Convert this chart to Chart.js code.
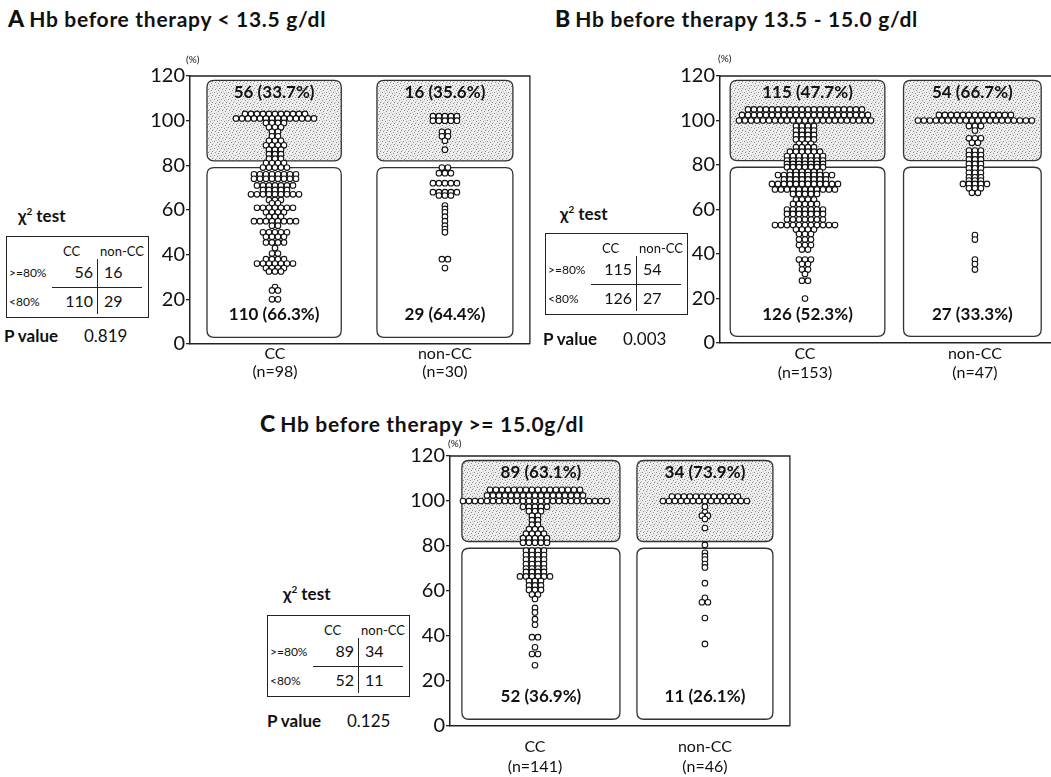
<!DOCTYPE html>
<html>
<head>
<meta charset="utf-8">
<script src="https://cdn.jsdelivr.net/npm/chart.js@4.4.1/dist/chart.umd.min.js"></script>
<style>
  body { margin:0; width:1051px; height:777px; overflow:hidden; background:#fff; position:relative;
         font-family: Lato, "Open Sans", sans-serif; color:#111; }
  .abs { position:absolute; white-space:nowrap; }
  .title { font-size:21px; font-weight:700; line-height:26px; letter-spacing:0.7px; }
  .title b { font-size:23px; font-weight:900; margin-right:5px; letter-spacing:0; }
  .chi { font-size:17px; font-weight:700; }
  .chi sup { font-size:10px; }
  .pct { font-size:10px; }
  .tbl { position:absolute; width:143px; height:82px; border:1.5px solid #222; box-sizing:border-box; }
  .tbl div { position:absolute; white-space:nowrap; transform:translateY(-50%); }
  .hdr { font-size:13px; }
  .rl { font-size:12px; }
  .num { font-size:16px; }
  .pv { font-size:17px; }
  canvas { position:absolute; }
</style>
</head>
<body>
<canvas id="chartA" width="385" height="330" style="left:150px;top:63px"></canvas>
<canvas id="chartB" width="385" height="330" style="left:680px;top:63px"></canvas>
<canvas id="chartC" width="385" height="340" style="left:410px;top:443px"></canvas>
<script>
// categories and group sizes
const categories = ['CC', 'non-CC'];
const nA = [98, 30];
const nB = [153, 47];
const nC = [141, 46];

// counts above / below 80 % and their shares
const highA = [56, 16],  lowA = [110, 29];
const highPctA = ['33.7%', '35.6%'], lowPctA = ['66.3%', '64.4%'];
const highB = [115, 54], lowB = [126, 27];
const highPctB = ['47.7%', '66.7%'], lowPctB = ['52.3%', '33.3%'];
const highC = [89, 34],  lowC = [52, 11];
const highPctC = ['63.1%', '73.9%'], lowPctC = ['36.9%', '26.1%'];
const pValues = ['0.819', '0.003', '0.125'];

// dot plot values (%) and how many dots sit on each value
const aCCValues  = [103, 101, 99, 97, 95, 93, 91, 89, 87, 85, 83, 81, 79, 76, 74, 71, 69, 67, 64.5, 63, 61, 59, 57, 55, 53, 50, 48, 45.5, 43, 40.5, 38, 36, 34, 32.5, 25.5, 24, 20];
const aCCCounts  = [11, 14, 4, 3, 2, 2, 3, 4, 3, 3, 3, 4, 5, 8, 8, 7, 5, 9, 3, 2, 7, 4, 3, 8, 2, 5, 4, 4, 1, 2, 4, 7, 4, 3, 1, 2, 2];
const aNonValues = [102, 100, 95, 93, 91, 87, 79, 76.5, 72, 68, 66.5, 62, 60.5, 59, 57, 55, 53, 51.5, 50, 38, 34];
const aNonCounts = [5, 5, 2, 2, 1, 1, 2, 3, 5, 5, 3, 1, 1, 1, 1, 1, 1, 1, 1, 2, 1];

const bCCValues  = [105, 102.5, 100, 97.5, 95.5, 93.5, 91.5, 89.5, 88, 86, 84, 82, 80.5, 79, 77, 75.5, 73.5, 71.5, 69, 67, 64.5, 62.5, 60, 58, 55.5, 53, 51, 49, 46.5, 44, 42, 37.5, 35.5, 33, 31, 28, 20];
const bCCCounts  = [20, 22, 23, 4, 4, 4, 4, 3, 4, 6, 7, 7, 7, 7, 6, 10, 8, 12, 11, 5, 4, 5, 7, 7, 7, 11, 4, 3, 3, 3, 2, 3, 2, 2, 1, 2, 1];
const bNonValues = [102.5, 100, 97.5, 95.5, 92, 90, 86.5, 84.5, 82.5, 80.5, 78.5, 76.5, 74.5, 73, 71.5, 69.5, 67.5, 48.5, 46.5, 37.5, 35.5, 33];
const bNonCounts = [13, 20, 3, 1, 3, 2, 3, 3, 3, 3, 3, 3, 3, 3, 5, 3, 2, 1, 1, 1, 1, 1];

const cCCValues  = [105, 102.5, 100, 97.5, 95.5, 93.5, 91.5, 89.5, 87.5, 85.5, 83.5, 81.5, 78, 76, 74, 72, 70, 68.5, 66.5, 64.5, 62.5, 60.5, 58.5, 56.5, 52.5, 50.5, 47.5, 45, 39.5, 35, 32, 27];
const cCCCounts  = [16, 17, 25, 5, 3, 2, 2, 2, 3, 4, 5, 5, 4, 4, 4, 4, 4, 4, 6, 3, 3, 3, 2, 1, 1, 1, 1, 1, 2, 1, 2, 1];
const cNonValues = [102, 100, 97.5, 95, 93.5, 92, 88, 80.5, 77, 75.5, 74, 72, 70.5, 63.5, 57, 55, 48, 36.5];
const cNonCounts = [12, 15, 1, 1, 2, 1, 1, 1, 1, 1, 1, 1, 1, 1, 1, 2, 1, 1];

const yTicks = [0, 20, 40, 60, 80, 100, 120];

// ---- helpers for the html parts (titles, chi-square tables) ----
function addDiv(cls, html, x, y, style) {
  const d = document.createElement('div');
  d.className = 'abs ' + cls;
  d.innerHTML = html;
  d.style.left = x + 'px';
  d.style.top = y + 'px';
  if (style) Object.assign(d.style, style);
  document.body.appendChild(d);
  return d;
}

function chiTable(x, y, high, low, pVal, chiX, chiY, pX, pY) {
  addDiv('chi', '&chi;<sup>2</sup> test', chiX, chiY, {transform: 'translateY(-50%)'});
  const t = document.createElement('div');
  t.className = 'tbl';
  t.style.left = x + 'px';
  t.style.top = y + 'px';
  const cell = (cls, txt, left, top, right) => {
    const d = document.createElement('div');
    d.className = cls;
    d.textContent = txt;
    d.style.top = top + 'px';
    d.style.left = left + 'px';
    if (right) d.style.transform = 'translate(-100%,-50%)';
    t.appendChild(d);
  };
  cell('hdr', 'CC', 56, 14);
  cell('hdr', 'non-CC', 93, 14);
  cell('rl', '>=80%', 2, 35);
  cell('num', String(high[0]), 86, 34, true);
  cell('num', String(high[1]), 97, 34);
  cell('rl', '<80%', 2, 64);
  cell('num', String(low[0]), 86, 63, true);
  cell('num', String(low[1]), 97, 63);
  const h = document.createElement('div');
  Object.assign(h.style, {left: '45px', top: '50px', width: '90px', height: '0', borderTop: '1.5px solid #222', transform: 'none'});
  t.appendChild(h);
  const v = document.createElement('div');
  Object.assign(v.style, {left: '90px', top: '22px', width: '0', height: '55px', borderLeft: '1.5px solid #222', transform: 'none'});
  t.appendChild(v);
  document.body.appendChild(t);
  addDiv('pv', '<b>P value</b>', pX, pY, {transform: 'translateY(-50%)'});
  addDiv('pv', pVal, pX + 80, pY, {transform: 'translateY(-50%)'});
}

addDiv('title', '<b>A</b>Hb before therapy &lt; 13.5 g/dl', 8, 5);
addDiv('title', '<b>B</b>Hb before therapy 13.5 - 15.0 g/dl', 555, 5);
addDiv('title', '<b>C</b>Hb before therapy &gt;= 15.0g/dl', 260, 410);
addDiv('pct', '(%)', 186, 53);
addDiv('pct', '(%)', 718, 52);
addDiv('pct', '(%)', 448, 437);

chiTable(6, 236, highA, lowA, pValues[0], 18, 215, 4, 335);
chiTable(545, 233, highB, lowB, pValues[1], 560, 213, 543, 338);
chiTable(267, 615, highC, lowC, pValues[2], 283, 593, 267, 720);

// ---- charts ----
const DOT_PX = 6;      // horizontal spacing between stacked dots
const PX_PER_CAT = 170;

function expand(center, values, counts) {
  const pts = [];
  values.forEach((v, i) => {
    const n = counts[i];
    for (let k = 0; k < n; k++) {
      pts.push({x: center + (k - (n - 1) / 2) * DOT_PX / PX_PER_CAT, y: v});
    }
  });
  return pts;
}

function roundRect(ctx, x0, y0, x1, y1, r) {
  ctx.beginPath();
  ctx.moveTo(x0 + r, y0);
  ctx.lineTo(x1 - r, y0);
  ctx.quadraticCurveTo(x1, y0, x1, y0 + r);
  ctx.lineTo(x1, y1 - r);
  ctx.quadraticCurveTo(x1, y1, x1 - r, y1);
  ctx.lineTo(x0 + r, y1);
  ctx.quadraticCurveTo(x0, y1, x0, y1 - r);
  ctx.lineTo(x0, y0 + r);
  ctx.quadraticCurveTo(x0, y0, x0 + r, y0);
  ctx.closePath();
}

function stipple(ctx) {
  const c = document.createElement('canvas');
  c.width = 7; c.height = 7;
  const g = c.getContext('2d');
  g.fillStyle = '#eeeeee';
  g.fillRect(0, 0, 7, 7);
  g.fillStyle = '#8a8a8a';
  [[1, 1], [4, 2], [2, 5], [6, 4], [5, 6]].forEach(p => g.fillRect(p[0], p[1], 1, 1));
  g.fillStyle = '#c4c4c4';
  [[3, 0], [0, 3], [6, 1], [3, 4]].forEach(p => g.fillRect(p[0], p[1], 1, 1));
  return ctx.createPattern(c, 'repeat');
}

// boxes, frame and the count labels
const panelDecor = {
  id: 'panelDecor',
  beforeDatasetsDraw(chart, args, opts) {
    const {ctx, chartArea: ca, scales: {x, y}} = chart;
    ctx.save();
    ctx.strokeStyle = '#222';
    ctx.lineWidth = 1.3;
    ctx.beginPath();
    ctx.moveTo(ca.left, ca.top);
    ctx.lineTo(ca.right, ca.top);
    ctx.lineTo(ca.right, ca.bottom);
    ctx.stroke();
    const pat = stipple(ctx);
    opts.spans.forEach(s => {
      const x0 = x.getPixelForValue(s[0]), x1 = x.getPixelForValue(s[1]);
      roundRect(ctx, x0, y.getPixelForValue(118), x1, y.getPixelForValue(82), 7);
      ctx.fillStyle = pat;
      ctx.fill();
      ctx.strokeStyle = '#333';
      ctx.lineWidth = 1.3;
      ctx.stroke();
      roundRect(ctx, x0, y.getPixelForValue(79), x1, y.getPixelForValue(3), 7);
      ctx.fillStyle = '#fff';
      ctx.fill();
      ctx.stroke();
    });
    ctx.restore();
  },
  afterDatasetsDraw(chart, args, opts) {
    const {ctx, scales: {x, y}} = chart;
    ctx.save();
    ctx.font = 'bold 17px Lato, sans-serif';
    ctx.fillStyle = '#111';
    ctx.textAlign = 'center';
    ctx.textBaseline = 'middle';
    opts.spans.forEach((s, i) => {
      const cx = x.getPixelForValue((s[0] + s[1]) / 2);
      ctx.fillText(opts.high[i] + ' (' + opts.highPct[i] + ')', cx, y.getPixelForValue(112.5));
      ctx.fillText(opts.low[i] + ' (' + opts.lowPct[i] + ')', cx, y.getPixelForValue(13));
    });
    ctx.restore();
  }
};

function makePanel(id, ns, groups, spans, high, highPct, low, lowPct, xAxisH, xPad, xLine) {
  const datasets = groups.map((g, i) => ({
    data: expand(i + 0.5, g[0], g[1]),
    pointRadius: 2.8,
    pointBorderWidth: 1.1,
    pointBorderColor: '#111',
    pointBackgroundColor: '#fff',
    showLine: false
  }));
  return new Chart(document.getElementById(id), {
    type: 'scatter',
    data: {datasets},
    options: {
      responsive: false,
      animation: false,
      devicePixelRatio: 1,
      layout: {padding: {top: 10, right: 5, left: 0, bottom: 0}},
      plugins: {
        legend: {display: false},
        tooltip: {enabled: false},
        panelDecor: {spans, high, highPct, low, lowPct}
      },
      scales: {
        x: {
          type: 'linear', min: 0, max: 2,
          afterBuildTicks: ax => { ax.ticks = categories.map((c, i) => ({value: i + 0.5})); },
          afterFit: ax => { ax.height = xAxisH; },
          grid: {display: false, drawTicks: false, tickLength: 0},
          border: {display: true, color: '#222', width: 1.5},
          ticks: {
            color: '#111', padding: xPad, maxRotation: 0,
            font: {family: 'Lato, sans-serif', size: 16, lineHeight: xLine},
            callback: (v, i) => [categories[i], '(n=' + ns[i] + ')']
          }
        },
        y: {
          min: 0, max: 120,
          afterBuildTicks: ax => { ax.ticks = yTicks.map(v => ({value: v})); },
          afterFit: ax => { ax.width = 40; },
          grid: {display: true, drawOnChartArea: false, drawTicks: true, tickLength: 4, color: '#222', lineWidth: 1.3},
          border: {display: true, color: '#222', width: 1.5},
          ticks: {color: '#111', padding: 1, font: {family: 'Lato, sans-serif', size: 20}}
        }
      }
    },
    plugins: [panelDecor]
  });
}

makePanel('chartA', nA, [[aCCValues, aCCCounts], [aNonValues, aNonCounts]],
  [[0.10, 0.89], [1.10, 1.90]], highA, highPctA, lowA, lowPctA, 49, 1, 1.1);
makePanel('chartB', nB, [[bCCValues, bCCCounts], [bNonValues, bNonCounts]],
  [[0.06, 0.97], [1.08, 1.89]], highB, highPctB, lowB, lowPctB, 50, 2, 1.15);
makePanel('chartC', nC, [[cCCValues, cCCCounts], [cNonValues, cNonCounts]],
  [[0.07, 1.00], [1.10, 1.90]], highC, highPctC, lowC, lowPctC, 57, 10, 1.3);
</script>
</body>
</html>
